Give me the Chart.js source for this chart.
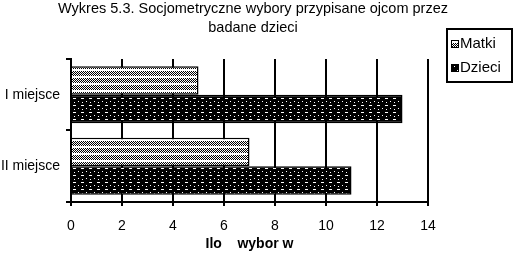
<!DOCTYPE html>
<html>
<head>
<meta charset="utf-8">
<script src="https://cdn.jsdelivr.net/npm/chart.js@4/dist/chart.umd.min.js"></script>
<style>
  html, body { margin: 0; padding: 0; background: #fff; }
  #wrap { width: 513px; height: 260px; }
</style>
</head>
<body>
<div id="wrap"><canvas id="c" width="513" height="260"></canvas></div>
<script>
const titleLines = ['Wykres 5.3. Socjometryczne wybory przypisane ojcom przez', 'badane dzieci'];
const categories = ['I miejsce', 'II miejsce'];
const seriesNames = ['Matki', 'Dzieci'];
const matkiValues = [5, 7];
const dzieciValues = [13, 11];
const xAxisTitle = 'Ilo    wybor w';
const xMin = 0, xMax = 14, xStep = 2;

function makePattern(kind) {
  const t = document.createElement('canvas');
  t.width = 8; t.height = 7;
  const g = t.getContext('2d');
  if (kind === 'light') {
    g.fillStyle = '#fff'; g.fillRect(0, 0, 8, 7);
    g.fillStyle = '#000';
    for (let y = 1; y <= 5; y++) {
      for (let x = (y % 2); x < 8; x += 2) g.fillRect(x, y, 1, 1);
    }
  } else {
    g.fillStyle = '#000'; g.fillRect(0, 0, 8, 7);
    g.fillStyle = '#fff';
    g.fillRect(1, 0, 3, 1);
    g.fillRect(6, 3, 1, 1);
    g.fillRect(2, 4, 1, 1);
  }
  return g.createPattern(t, 'repeat');
}

const patMatki = makePattern('light');
const patDzieci = makePattern('dark');

const FONT = "'Liberation Sans', Arial, sans-serif";

const whiteBg = {
  id: 'whiteBg',
  beforeDraw(chart) {
    const ctx = chart.ctx;
    ctx.save();
    ctx.fillStyle = '#fff';
    ctx.fillRect(0, 0, chart.width, chart.height);
    ctx.restore();
  }
};

const boxLegend = {
  id: 'boxLegend',
  afterDraw(chart) {
    const ctx = chart.ctx;
    const ca = chart.chartArea;
    const left = ca.right + 19, top = 29, w = 65, h = 53;
    ctx.save();
    ctx.strokeStyle = '#000';
    ctx.lineWidth = 2;
    ctx.strokeRect(left, top, w, h);
    ctx.font = '15px ' + FONT;
    ctx.textBaseline = 'middle';
    ctx.textAlign = 'left';
    chart.data.datasets.forEach((ds, i) => {
      const cy = top + 15 + i * 24;
      ctx.fillStyle = ds.backgroundColor;
      ctx.fillRect(left + 4, cy - 4, 8, 8);
      ctx.lineWidth = 1;
      ctx.strokeStyle = '#000';
      ctx.strokeRect(left + 4.5, cy - 3.5, 7, 7);
      ctx.fillStyle = '#000';
      ctx.fillText(ds.label, left + 13, cy);
    });
    ctx.restore();
  }
};

new Chart(document.getElementById('c'), {
  type: 'bar',
  data: {
    labels: categories,
    datasets: [
      { label: seriesNames[0], data: matkiValues, backgroundColor: patMatki, borderColor: '#000', borderWidth: 1.5 },
      { label: seriesNames[1], data: dzieciValues, backgroundColor: patDzieci, borderColor: '#000', borderWidth: 1.5 }
    ]
  },
  options: {
    indexAxis: 'y',
    responsive: false,
    animation: false,
    layout: { padding: { left: 0, right: 7, top: 0, bottom: 0 } },
    datasets: { bar: { categoryPercentage: 0.8, barPercentage: 1 } },
    plugins: {
      legend: { display: false },
      tooltip: { enabled: false },
      title: {
        display: true,
        text: titleLines,
        color: '#000',
        font: { family: FONT, size: 14.5, weight: 'normal', lineHeight: 1.31 },
        padding: { top: 0, bottom: 21 }
      }
    },
    scales: {
      x: {
        type: 'linear',
        min: xMin, max: xMax,
        ticks: { stepSize: xStep, color: '#000', font: { family: FONT, size: 14 }, padding: 12 },
        grid: { color: '#000', lineWidth: 2, tickLength: 4, drawOnChartArea: true },
        border: { color: '#000', width: 2 },
        title: { display: true, text: xAxisTitle, color: '#000', font: { family: FONT, size: 14, weight: 'bold' }, padding: { top: 4, bottom: 7 } },
        afterFit(s) { s.height = 58; }
      },
      y: {
        type: 'category',
        ticks: { color: '#000', font: { family: FONT, size: 14 }, padding: 6 },
        grid: { color: '#000', lineWidth: 2, tickLength: 5, drawOnChartArea: false, offset: true },
        border: { color: '#000', width: 2 },
        afterFit(s) { s.width = 71; }
      },
      yR: {
        type: 'category',
        position: 'right',
        display: true,
        ticks: { display: false },
        grid: { display: false },
        border: { display: false },
        afterFit(s) { s.width = 78; }
      }
    }
  },
  plugins: [whiteBg, boxLegend]
});
</script>
</body>
</html>
